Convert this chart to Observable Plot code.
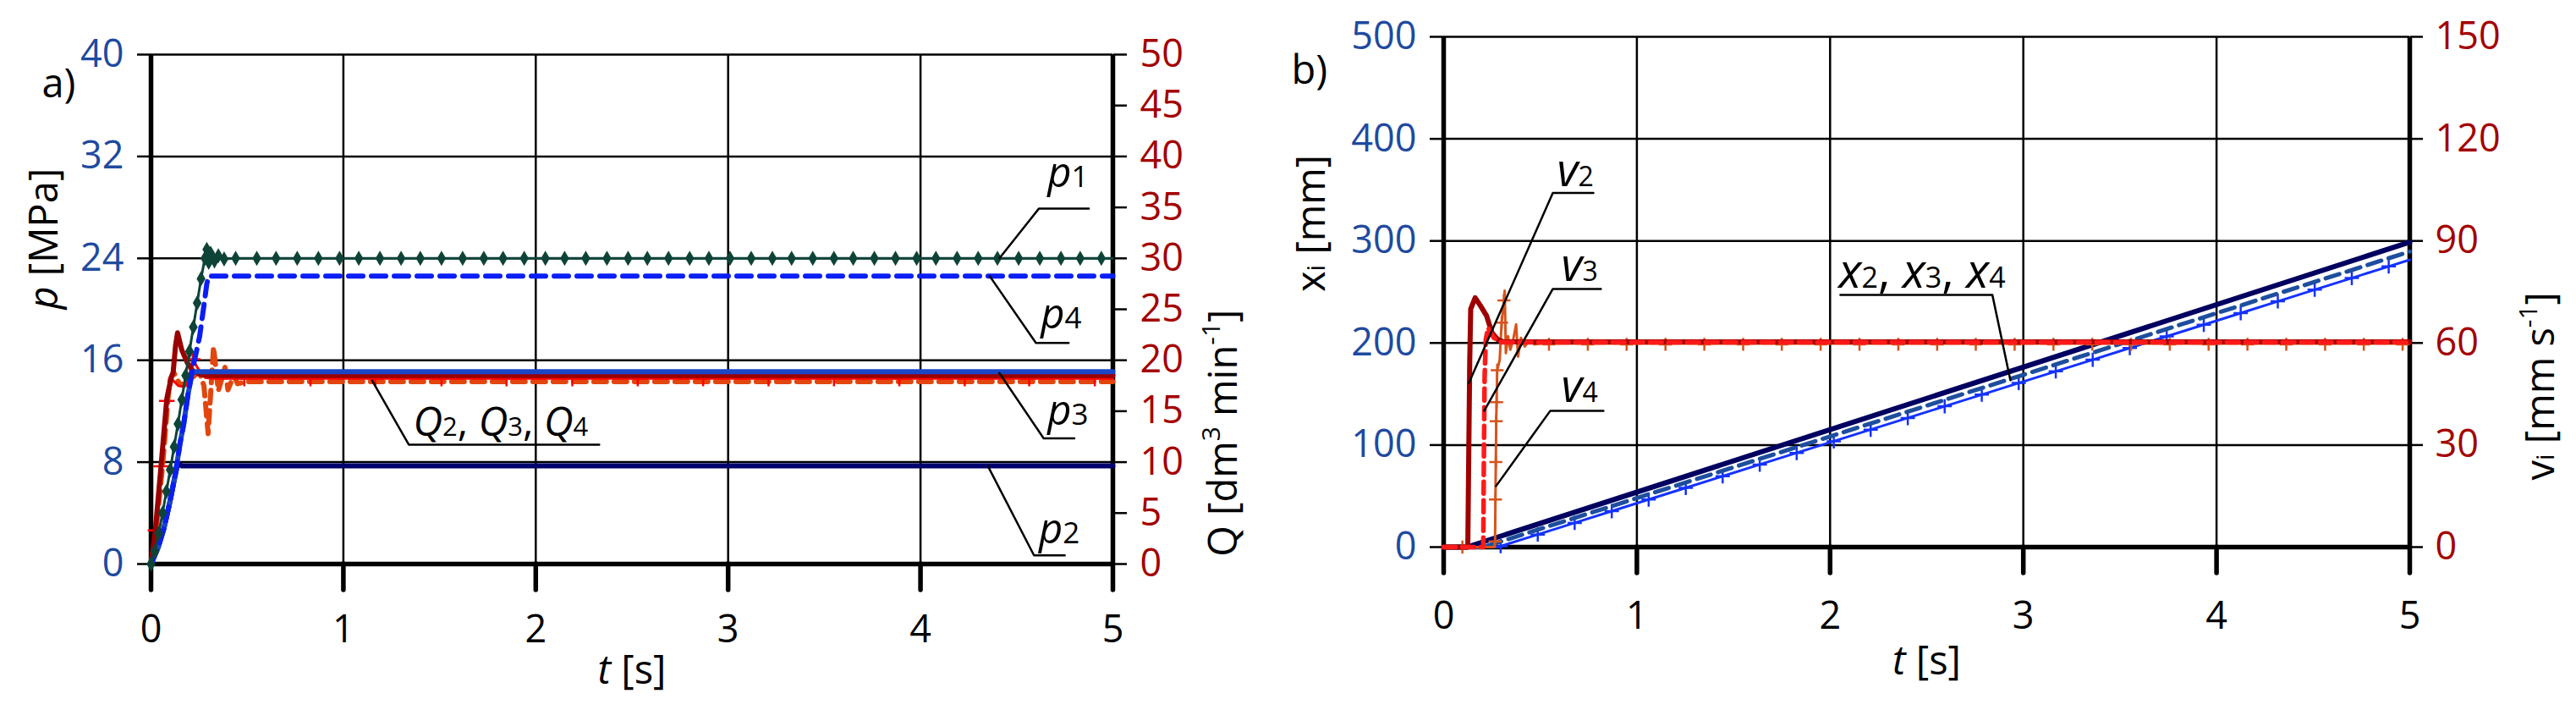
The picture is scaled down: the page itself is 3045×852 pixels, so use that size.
<!DOCTYPE html>
<html><head><meta charset="utf-8">
<script src="https://cdn.jsdelivr.net/npm/d3@7"></script>
<script src="https://cdn.jsdelivr.net/npm/@observablehq/plot@0.6"></script>
<style>
html,body{margin:0;padding:0;background:#fff;}
#root{position:relative;width:3045px;height:852px;overflow:hidden;background:#fff;}
.panel{position:absolute;top:0;}
</style></head><body><div id="root"></div>
<script>
// ---------- ticks ----------
const tTicks = [0,1,2,3,4,5];
const pTicks = [0,8,16,24,32,40];
const qTicks = [0,5,10,15,20,25,30,35,40,45,50];
const xiTicks = [0,100,200,300,400,500];
const vTicks = [0,30,60,90,120,150];

// ---------- panel a: pressures p [MPa] ----------
const p1T = [0,0.02,0.04,0.06,0.08,0.10,0.12,0.14,0.16,0.18,0.20,0.22,0.24,0.26,0.28,0.29,0.30,0.31,0.33,0.35,0.38,0.44,0.55,0.65,0.76,0.87,0.98,1.08,1.19,1.30,1.40,1.51,1.62,1.73,1.83,1.94,2.05,2.15,2.26,2.37,2.48,2.58,2.69,2.80,2.90,3.01,3.12,3.23,3.33,3.44,3.55,3.65,3.76,3.87,3.98,4.08,4.19,4.30,4.40,4.51,4.62,4.73,4.83,4.94,5];
const p1V = [0,1.0,2.4,4.0,5.7,7.4,9.2,11.0,12.9,14.8,16.7,18.6,20.5,22.4,24.0,24.7,23.7,24.4,23.8,24.2,23.95,24,24,24,24,24,24,24,24,24,24,24,24,24,24,24,24,24,24,24,24,24,24,24,24,24,24,24,24,24,24,24,24,24,24,24,24,24,24,24,24,24,24,24,24];
const p2T = [0,0.037,0.067,0.097,0.126,0.14,0.16,5];
const p2V = [0,1.3,2.8,4.8,7.0,7.9,7.7,7.7];
const p3T = [0,0.037,0.067,0.097,0.126,0.15,0.17,0.192,0.214,0.23,5];
const p3V = [0,1.3,2.8,4.8,7.0,9.4,11.0,13.3,15.0,15.1,15.1];
const p4T = [0,0.037,0.067,0.097,0.126,0.15,0.17,0.192,0.214,0.235,0.253,0.275,0.29,0.30,5];
const p4V = [0,1.3,2.8,4.8,7.0,9.4,11.0,13.3,15.2,16.6,17.9,20.3,22.0,22.6,22.6];
// flows Q [dm3/min]
const q2T = [0,0.023,0.053,0.082,0.105,0.115,0.128,0.138,0.16,0.19,0.22,0.26,0.30,5];
const q2V = [0,3.4,9.8,16.2,18.3,18.8,21.5,22.7,21.0,19.7,18.9,18.6,18.5,18.5];
const q3T = [0,0.023,0.053,0.082,0.111,0.141,0.17,0.19,0.217,0.25,0.28,0.32,5];
const q3V = [0,3.3,9.6,16.0,18.1,17.5,17.4,17.7,20.1,19.0,18.3,18.2,18.2];
const q3MarkT = [0.023,0.053,0.082,0.217,0.485,0.829,1.166,1.51,1.848,2.19,2.53,2.87,3.21,3.55,3.89,4.23,4.565,4.906];
const q3MarkV = [3.3,9.6,16.0,20.1,18.2,18.2,18.2,18.2,18.2,18.2,18.2,18.2,18.2,18.2,18.2,18.2,18.2,18.2];
const q4T = [0,0.023,0.06,0.09,0.10,0.118,0.148,0.18,0.21,0.25,0.275,0.297,0.325,0.35,0.385,0.40,0.43,0.45,0.50,5];
const q4V = [0,2.7,9.6,16.6,18.1,18.8,17.7,17.6,18.2,18.9,17.5,12.8,21.3,17.0,19.3,17.1,18.5,17.7,17.9,17.9];

// annotations panel a (t, p)
const annALabel = ["p1","p4","p3","p2","Q2, Q3, Q4"];
const annATextT = [4.66,4.625,4.66,4.615,1.363];
const annATextY = [29.6,18.5,10.9,1.63,10.05];
const annALeader = [
  [[4.41,24.0],[4.615,27.9],[4.875,27.9]],
  [[4.36,22.6],[4.60,17.36],[4.77,17.36]],
  [[4.41,15.0],[4.64,9.87],[4.80,9.87]],
  [[4.35,7.7],[4.59,0.68],[4.75,0.68]],
  [[1.15,14.4],[1.34,9.37],[2.33,9.37]]
];

// ---------- panel b: displacements x [mm] ----------
const x2T = [0,0.12,5];
const x2V = [0,0,298.8];
const x3T = [0,0.205,5];
const x3V = [0,0,289.6];
const x4T = [0,0.28,0.295,0.487,0.678,0.87,1.061,1.253,1.444,1.636,1.827,2.019,2.21,2.402,2.593,2.785,2.976,3.168,3.359,3.551,3.742,3.934,4.125,4.317,4.508,4.70,4.891,5];
const x4V = [0,0,0.9,12.3,23.7,35.2,46.6,58.0,69.4,80.9,92.3,103.7,115.1,126.5,138.0,149.4,160.8,172.2,183.6,195.1,206.5,217.9,229.3,240.8,252.2,263.6,275.0,281.5];
// velocities v [mm/s]
const v2T = [0,0.125,0.13,0.135,0.14,0.163,0.19,0.222,0.25,0.28,0.31,5];
const v2V = [0,0,28,55,70,73.3,71,68,63,61,60.3,60.3];
const v3T = [0,0.205,0.208,0.212,0.218,0.23,0.26,0.30,5];
const v3V = [0,0,25,50,61,64.5,61.5,60.2,60.2];
const v4T = [0,0.262,0.266,0.268,0.270,0.272,0.274,0.277,0.290,0.300,0.312,0.316,0.322,0.333,0.345,0.36,0.375,0.385,0.40,0.42,0.44,0.47,0.50,5];
const v4V = [0,0,1.7,14,25,37,42.6,52,55,66,72.5,75.4,57,62,58,61,65.5,56,61.5,59,60.5,59.6,59.8,59.8];
const v4MarkT = [0.097,0.266,0.268,0.270,0.272,0.274,0.277,0.300,0.312,0.545,0.746,0.947,1.148,1.349,1.55,1.75,1.951,2.152,2.353,2.554,2.754,2.955,3.156,3.357,3.558,3.758,3.959,4.16,4.361,4.562,4.762,4.963];
const v4MarkV = [0,1.7,14,25,37,42.6,52,66,72.5,59.6,59.6,59.6,59.6,59.6,59.6,59.6,59.6,59.6,59.6,59.6,59.6,59.6,59.6,59.6,59.6,59.6,59.6,59.6,59.6,59.6,59.6,59.6];

// annotations panel b (t, x)
const annBLabel = ["v2","v3","v4","x2, x3, x4"];
const annBTextT = [0.587,0.609,0.609,2.045];
const annBTextY = [353.5,260.8,142,254];
const annBLeader = [
  [[0.131,161],[0.565,347],[0.775,347]],
  [[0.21,133.6],[0.565,253],[0.814,253]],
  [[0.271,59.8],[0.552,133.6],[0.827,133.6]],
  [[2.933,163.5],[2.84,247],[2.053,247]]
];

// ---------- helpers ----------
const Q2P = 40/50, V2X = 500/150;
const rows = (T,V,k=1) => T.map((t,i)=>({t, y:V[i]*k}));
const leaderRows = L => L.flatMap((pts,id)=>pts.map(([t,y])=>({id,t,y})));
const textRows = (L,T,Y) => L.map((label,i)=>({label,t:T[i],y:Y[i]}));
const BLUE="#1E4AA0", RED="#A30000", FONT="'Open Sans', sans-serif";
const SVGNS="http://www.w3.org/2000/svg";

function richify(svg, specs){
  svg.querySelectorAll("text").forEach(el=>{
    const spec = specs[el.textContent];
    if(!spec) return;
    const {size, parts} = spec;
    el.textContent="";
    let cur=0;
    for(const p of parts){
      const ts=document.createElementNS(SVGNS,"tspan");
      ts.textContent=p.s;
      if(p.i) ts.setAttribute("font-style","italic");
      let target=0;
      if(p.sup){ ts.setAttribute("font-size", p.sup); target=-0.42*size; }
      else if(p.small){ ts.setAttribute("font-size", p.small); }
      else ts.setAttribute("font-size", size);
      if(target!==cur){ ts.setAttribute("dy", target-cur); cur=target; }
      el.appendChild(ts);
    }
  });
}
const I=(s)=>({s,i:true}), N=(s)=>({s}), S=(s,z)=>({s,small:z}), U=(s,z)=>({s,sup:z});

const frameMarks = (xT, yT) => [
  Plot.ruleX(xT.slice(1,-1), {stroke:"#000", strokeWidth:2.5}),
  Plot.ruleY(yT.slice(1), {stroke:"#000", strokeWidth:2.5}),
  Plot.ruleX([xT[0], xT[xT.length-1]], {stroke:"#000", strokeWidth:5.5}),
  Plot.ruleY([yT[0]], {stroke:"#000", strokeWidth:5.5})
];
const intFmt = d => String(Math.round(d));

// ---------- panel a ----------
const plotA = Plot.plot({
  width:1480, height:852, marginLeft:178, marginRight:165, marginTop:64, marginBottom:186,
  x:{domain:[0,5]}, y:{domain:[0,40]},
  style:{fontFamily:FONT, background:"transparent", overflow:"visible"},
  marks:[
    ...frameMarks(tTicks, pTicks),
    Plot.axisY(pTicks, {anchor:"left", tickSize:16, tickPadding:16, stroke:"#000", strokeWidth:2.5, fill:BLUE, fontSize:45, label:null, tickFormat:intFmt}),
    Plot.axisY(qTicks.map(q=>q*Q2P), {anchor:"right", tickSize:16, tickPadding:16, stroke:"#000", strokeWidth:2.5, fill:RED, fontSize:45, label:null, tickFormat:d=>String(Math.round(d/Q2P))}),
    Plot.axisX(tTicks, {anchor:"bottom", tickSize:31, tickPadding:30, stroke:"#000", strokeWidth:5.5, strokeLinecap:"round", fill:"#000", fontSize:45, label:null, tickFormat:intFmt}),
    Plot.line(rows(q4T,q4V,Q2P), {x:"t", y:"y", stroke:"#E2460E", strokeWidth:6, strokeDasharray:"15,9"}),
    Plot.line(rows(q3T,q3V,Q2P), {x:"t", y:"y", stroke:"#FF0000", strokeWidth:3}),
    Plot.dot(rows(q3MarkT,q3MarkV,Q2P), {x:"t", y:"y", symbol:"plus", r:6, stroke:"#FF0000", strokeWidth:2.5}),
    Plot.line(rows(q2T,q2V,Q2P), {x:"t", y:"y", stroke:"#990000", strokeWidth:6}),
    Plot.line(rows(p2T,p2V), {x:"t", y:"y", stroke:"#00006E", strokeWidth:6}),
    Plot.line(rows(p3T,p3V), {x:"t", y:"y", stroke:"#1A47C8", strokeWidth:6}),
    Plot.line(rows(p4T,p4V), {x:"t", y:"y", stroke:"#0A1EF5", strokeWidth:6, strokeDasharray:"17,10"}),
    Plot.line(rows(p1T,p1V), {x:"t", y:"y", stroke:"#0E4438", strokeWidth:3}),
    Plot.dot(rows(p1T.slice(0,-1),p1V.slice(0,-1)), {x:"t", y:"y", symbol:"diamond", r:5.5, fill:"#0E4438", stroke:"none"}),
    Plot.line(leaderRows(annALeader), {x:"t", y:"y", z:"id", stroke:"#000", strokeWidth:2.5}),
    Plot.text(textRows(annALabel,annATextT,annATextY), {x:"t", y:"y", text:"label", textAnchor:"start", lineAnchor:"bottom", fontSize:48, fill:"#000"}),
    Plot.text(["p [MPa]"], {frameAnchor:"left", dx:-126, rotate:-90, fontSize:47, fill:"#000"}),
    Plot.text(["Q [dm3 min-1]"], {frameAnchor:"right", dx:131, rotate:-90, fontSize:47, fill:"#000"}),
    Plot.text(["t [s]"], {frameAnchor:"bottom", dy:141, fontSize:47, fill:"#000"}),
    Plot.text(["a)"], {frameAnchor:"top-left", dx:-129, dy:17, fontSize:47, fill:"#000"})
  ]
});
richify(plotA, {
  "p1":{size:49, parts:[I("p"),S("1",35)]},
  "p2":{size:49, parts:[I("p"),S("2",35)]},
  "p3":{size:49, parts:[I("p"),S("3",35)]},
  "p4":{size:49, parts:[I("p"),S("4",35)]},
  "Q2, Q3, Q4":{size:48, parts:[I("Q"),S("2",31),N(", "),I("Q"),S("3",31),N(", "),I("Q"),S("4",31)]},
  "p [MPa]":{size:47, parts:[I("p"),N(" [MPa]")]},
  "Q [dm3 min-1]":{size:47, parts:[N("Q [dm"),U("3",30),N(" min"),U("-1",30),N("]")]},
  "t [s]":{size:47, parts:[I("t"),N(" [s]")]}
});

// ---------- panel b ----------
const plotB = Plot.plot({
  width:1565, height:852, marginLeft:226, marginRight:197, marginTop:43, marginBottom:206,
  x:{domain:[0,5]}, y:{domain:[0,500]},
  style:{fontFamily:FONT, background:"transparent", overflow:"visible"},
  marks:[
    ...frameMarks(tTicks, xiTicks),
    Plot.axisY(xiTicks, {anchor:"left", tickSize:16, tickPadding:16, stroke:"#000", strokeWidth:2.5, fill:BLUE, fontSize:45, label:null, tickFormat:intFmt}),
    Plot.axisY(vTicks.map(v=>v*V2X), {anchor:"right", tickSize:15, tickPadding:15, stroke:"#000", strokeWidth:2.5, fill:RED, fontSize:45, label:null, tickFormat:d=>String(Math.round(d/V2X))}),
    Plot.axisX(tTicks, {anchor:"bottom", tickSize:31, tickPadding:34, stroke:"#000", strokeWidth:5.5, strokeLinecap:"round", fill:"#000", fontSize:45, label:null, tickFormat:intFmt}),
    Plot.line(rows(x4T,x4V), {x:"t", y:"y", stroke:"#1432FF", strokeWidth:3}),
    Plot.dot(rows(x4T.slice(2,-1),x4V.slice(2,-1)), {x:"t", y:"y", symbol:"plus", r:5.5, stroke:"#1432FF", strokeWidth:2.5}),
    Plot.line(rows(x3T,x3V), {x:"t", y:"y", stroke:"#1E4E9E", strokeWidth:5, strokeDasharray:"17,9"}),
    Plot.line(rows(x2T,x2V), {x:"t", y:"y", stroke:"#000060", strokeWidth:6}),
    Plot.line(rows(v4T,v4V,V2X), {x:"t", y:"y", stroke:"#D6541C", strokeWidth:3}),
    Plot.dot(rows(v4MarkT,v4MarkV,V2X), {x:"t", y:"y", symbol:"plus", r:5, stroke:"#D6541C", strokeWidth:2.5}),
    Plot.line(rows(v2T,v2V,V2X), {x:"t", y:"y", stroke:"#9E0000", strokeWidth:6}),
    Plot.line(rows(v3T,v3V,V2X), {x:"t", y:"y", stroke:"#FF1A1A", strokeWidth:5.5, strokeDasharray:"14,8"}),
    Plot.line(leaderRows(annBLeader), {x:"t", y:"y", z:"id", stroke:"#000", strokeWidth:2.5}),
    Plot.text(textRows(annBLabel,annBTextT,annBTextY), {x:"t", y:"y", text:"label", textAnchor:"start", lineAnchor:"bottom", fontSize:52, fill:"#000"}),
    Plot.text(["xi [mm]"], {frameAnchor:"left", dx:-156, rotate:-90, fontSize:47, fill:"#000"}),
    Plot.text(["vi [mm s-1]"], {frameAnchor:"right", dx:155, rotate:-90, fontSize:47, fill:"#000"}),
    Plot.text(["t [s]"], {frameAnchor:"bottom", dy:150, fontSize:47, fill:"#000"}),
    Plot.text(["b)"], {frameAnchor:"top-left", dx:-180, dy:22, fontSize:47, fill:"#000"})
  ]
});
richify(plotB, {
  "v2":{size:54, parts:[I("v"),S("2",32)]},
  "v3":{size:54, parts:[I("v"),S("3",32)]},
  "v4":{size:54, parts:[I("v"),S("4",32)]},
  "x2, x3, x4":{size:56, parts:[I("x"),S("2",34),N(", "),I("x"),S("3",34),N(", "),I("x"),S("4",34)]},
  "xi [mm]":{size:47, parts:[N("x"),S("i",30),N(" [mm]")]},
  "vi [mm s-1]":{size:47, parts:[N("v"),S("i",30),N(" [mm s"),U("-1",30),N("]")]},
  "t [s]":{size:47, parts:[I("t"),N(" [s]")]}
});

const root=document.getElementById("root");
const wa=document.createElement("div"); wa.className="panel"; wa.style.left="0px"; wa.style.width="1480px"; wa.appendChild(plotA);
const wb=document.createElement("div"); wb.className="panel"; wb.style.left="1480px"; wb.style.width="1565px"; wb.appendChild(plotB);
root.appendChild(wa); root.appendChild(wb);
</script></body></html>
